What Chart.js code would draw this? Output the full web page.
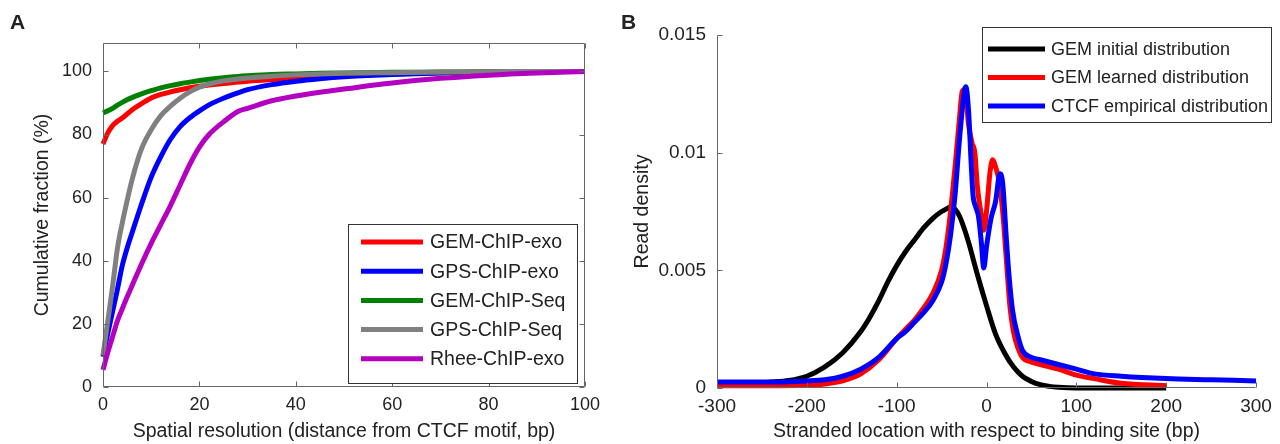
<!DOCTYPE html>
<html>
<head>
<meta charset="utf-8">
<title>GEM resolution and read distributions</title>
<script src="https://cdn.jsdelivr.net/npm/chart.js@4.4.1/dist/chart.umd.min.js"></script>
<style>
  body { margin: 0; background: #fff; width: 1280px; height: 444px; overflow: hidden; position: relative; }
  .panel { position: absolute; top: 0; height: 444px; }
  #panelA { left: 0; width: 620px; }
  #panelB { left: 620px; width: 660px; }
</style>
</head>
<body>
<div class="panel" id="panelA"><canvas id="chartA" width="620" height="444"></canvas></div>
<div class="panel" id="panelB"><canvas id="chartB" width="660" height="444"></canvas></div>
<script>
// Panel A: cumulative fraction (%) vs distance from CTCF motif (bp)
const distBp = [0, 1, 2, 3, 4, 5, 6, 8, 10, 12, 14, 16, 18, 20, 22, 25, 28, 30, 35, 40, 45, 50, 60, 70, 80, 90, 100];
const gemChipExo = [77, 80.5, 82.8, 84.2, 85.2, 86.5, 87.8, 89.8, 91.6, 92.7, 93.5, 94.2, 94.8, 95.3, 95.7, 96.2, 96.6, 96.9, 97.4, 97.8, 98.2, 98.6, 99.2, 99.6, 99.8, 99.9, 100];
const gpsChipExo = [9.6, 17, 24, 31, 38.5, 44, 48.7, 58, 66.5, 73, 78.5, 82.5, 85.3, 87.5, 89.4, 91.5, 93.2, 94.2, 95.8, 96.9, 97.7, 98.3, 99, 99.5, 99.8, 99.9, 100];
const gemChipSeq = [86.8, 87.5, 88.3, 89.3, 90.2, 91, 91.7, 92.9, 93.9, 94.8, 95.5, 96.1, 96.6, 97.1, 97.5, 98, 98.4, 98.6, 99, 99.2, 99.4, 99.5, 99.7, 99.8, 99.9, 100, 100];
const gpsChipSeq = [10, 21, 32, 44, 52, 59, 65.5, 75.5, 81.5, 86, 89, 91.5, 93.5, 95, 96, 97, 97.6, 97.9, 98.5, 98.9, 99.2, 99.4, 99.6, 99.8, 99.9, 100, 100];
const rheeChipExo = [5.4, 11, 16, 21, 24.8, 28.5, 32, 39, 45.5, 51.5, 57.5, 64, 70.5, 76, 80, 84, 87.3, 88.3, 90.7, 92.2, 93.4, 94.4, 96.3, 97.8, 98.8, 99.5, 100];
const ticksAX = [0, 20, 40, 60, 80, 100];
const ticksAY = [0, 20, 40, 60, 80, 100];

// Panel B: read density vs stranded location (bp)
const initPos = [-300, -260, -240, -220, -200, -180, -160, -140, -130, -120, -110, -100, -90, -80, -70, -60, -50, -45, -40, -35, -30, -25, -20, -10, 0, 10, 20, 30, 40, 50, 60, 70, 80, 100, 150, 200];
const initDensity = [0.0002, 0.0002, 0.00025, 0.00032, 0.0005, 0.0009, 0.0015, 0.0024, 0.003, 0.0037, 0.0045, 0.0052, 0.0058, 0.0063, 0.0068, 0.0072, 0.0075, 0.0076, 0.0077, 0.0076, 0.0073, 0.0068, 0.0062, 0.0048, 0.0035, 0.0023, 0.0015, 0.0009, 0.0005, 0.00028, 0.00014, 0.00007, 0.00003, 0, 0, 0];
const learnedPos = [-300, -250, -200, -180, -160, -140, -120, -100, -90, -80, -70, -60, -50, -45, -40, -35, -30, -27, -24, -20, -16, -13, -10, -6, -3, 0, 4, 7, 10, 14, 18, 22, 26, 30, 35, 40, 50, 60, 80, 100, 120, 150, 200];
const learnedDensity = [0.0001, 0.0001, 0.00012, 0.00017, 0.0003, 0.0006, 0.0012, 0.0021, 0.0025, 0.0029, 0.0034, 0.004, 0.005, 0.006, 0.0075, 0.0094, 0.0115, 0.0126, 0.0127, 0.0112, 0.0104, 0.01, 0.0085, 0.0074, 0.0067, 0.0075, 0.0092, 0.0097, 0.0094, 0.0088, 0.0075, 0.0055, 0.0035, 0.0024, 0.0017, 0.0013, 0.0011, 0.001, 0.0008, 0.00055, 0.0004, 0.0002, 0.0001];
const ctcfPos = [-300, -250, -200, -180, -160, -140, -120, -100, -90, -80, -70, -60, -50, -45, -40, -35, -30, -25, -23, -20, -17, -15, -12, -9, -6, -3, 0, 5, 10, 15, 18, 22, 25, 29, 35, 40, 50, 60, 80, 100, 120, 150, 200, 250, 300];
const ctcfDensity = [0.00025, 0.00025, 0.0003, 0.00035, 0.0005, 0.0008, 0.0013, 0.0021, 0.0024, 0.0028, 0.0032, 0.0037, 0.0045, 0.0053, 0.0065, 0.0082, 0.0106, 0.0125, 0.0128, 0.0118, 0.0095, 0.0082, 0.0077, 0.0073, 0.0063, 0.0051, 0.006, 0.0072, 0.0079, 0.0091, 0.0087, 0.0064, 0.0048, 0.0033, 0.0022, 0.0016, 0.0013, 0.0012, 0.001, 0.0008, 0.0006, 0.0005, 0.0004, 0.00035, 0.0003];
const ticksBX = [-300, -200, -100, 0, 100, 200, 300];
const ticksBY = [0, 0.005, 0.01, 0.015];

Chart.defaults.font.family = '"Liberation Sans", Arial, Helvetica, sans-serif';
Chart.defaults.color = '#222';

const textColor = '#222';
const axisColor = '#666';

// pair up x and y arrays for a linear x axis
function toPoints(xs, ys) {
  return xs.map((x, i) => ({ x: x, y: ys[i] }));
}

function lineSet(label, xs, ys, color, order) {
  return {
    label: label,
    data: toPoints(xs, ys),
    borderColor: color,
    backgroundColor: color,
    borderWidth: 5,
    pointRadius: 0,
    cubicInterpolationMode: 'monotone',
    borderJoinStyle: 'round',
    borderCapStyle: 'butt',
    clip: 6,
    order: order
  };
}

// axis lines, inward ticks, axis titles and the panel letter
const axisFrame = {
  id: 'axisFrame',
  afterDraw(chart, args, o) {
    const { ctx, chartArea: a } = chart;
    const xs = chart.scales.x, ys = chart.scales.y;
    const L = Math.round(a.left) + 0.5, R = Math.round(a.right) - 0.5;
    const T = Math.round(a.top) + 0.5, B = Math.round(a.bottom) - 0.5;
    ctx.save();
    ctx.strokeStyle = axisColor;
    ctx.lineWidth = 1;
    ctx.beginPath();
    ctx.moveTo(L, T); ctx.lineTo(L, B); ctx.lineTo(R, B);
    if (o.box) { ctx.lineTo(R, T); ctx.lineTo(L, T); }
    xs.ticks.forEach(t => {
      const p = Math.round(xs.getPixelForValue(t.value)) + 0.5;
      ctx.moveTo(p, B); ctx.lineTo(p, B - o.tick);
      if (o.box) { ctx.moveTo(p, T); ctx.lineTo(p, T + o.tick); }
    });
    ys.ticks.forEach(t => {
      const p = Math.round(ys.getPixelForValue(t.value)) + 0.5;
      ctx.moveTo(L, p); ctx.lineTo(L + o.tick, p);
      if (o.box) { ctx.moveTo(R, p); ctx.lineTo(R - o.tick, p); }
    });
    ctx.stroke();

    ctx.fillStyle = textColor;
    ctx.font = o.titleFont;
    ctx.textAlign = 'center';
    ctx.textBaseline = 'middle';
    ctx.fillText(o.xTitle, (a.left + a.right) / 2, o.xTitleY);
    ctx.save();
    ctx.translate(o.yTitleX, (a.top + a.bottom) / 2);
    ctx.rotate(-Math.PI / 2);
    ctx.fillText(o.yTitle, 0, 0);
    ctx.restore();

    ctx.font = 'bold 21px "Liberation Sans", Arial, sans-serif';
    ctx.textAlign = 'left';
    ctx.fillText(o.letter, o.letterX, o.letterY);
    ctx.restore();
  }
};

// boxed legend placed inside the plot
const boxLegend = {
  id: 'boxLegend',
  afterDraw(chart, args, o) {
    const ctx = chart.ctx;
    ctx.save();
    ctx.fillStyle = '#fff';
    ctx.fillRect(o.x, o.y, o.w, o.h);
    ctx.strokeStyle = '#333';
    ctx.lineWidth = 1;
    ctx.strokeRect(o.x + 0.5, o.y + 0.5, o.w, o.h);
    ctx.font = o.font;
    ctx.textAlign = 'left';
    ctx.textBaseline = 'middle';
    chart.data.datasets.forEach((ds, i) => {
      const yy = o.firstRow + i * o.rowGap;
      ctx.strokeStyle = ds.borderColor;
      ctx.lineWidth = 5;
      ctx.beginPath();
      ctx.moveTo(o.lineX0, yy);
      ctx.lineTo(o.lineX1, yy);
      ctx.stroke();
      ctx.fillStyle = textColor;
      ctx.fillText(ds.label, o.textX, yy + 1);
    });
    ctx.restore();
  }
};

function makeScales(xMin, xMax, xTicks, yMin, yMax, yTicks, yWidth, xHeight, fontSize) {
  const tickFont = { size: fontSize };
  return {
    x: {
      type: 'linear', min: xMin, max: xMax,
      grid: { display: false, drawTicks: false },
      border: { display: false },
      afterBuildTicks: s => { s.ticks = xTicks.map(v => ({ value: v })); },
      afterFit: s => { s.height = xHeight; },
      ticks: { font: tickFont, color: textColor, padding: 7, maxRotation: 0, callback: v => String(v) }
    },
    y: {
      type: 'linear', min: yMin, max: yMax,
      grid: { display: false, drawTicks: false },
      border: { display: false },
      afterBuildTicks: s => { s.ticks = yTicks.map(v => ({ value: v })); },
      afterFit: s => { s.width = yWidth; },
      ticks: { font: tickFont, color: textColor, padding: 11, callback: v => String(v) }
    }
  };
}

new Chart(document.getElementById('chartA'), {
  type: 'line',
  data: {
    datasets: [
      lineSet('GEM-ChIP-exo', distBp, gemChipExo, '#ff0000', 4),
      lineSet('GPS-ChIP-exo', distBp, gpsChipExo, '#0000ff', 3),
      lineSet('GEM-ChIP-Seq', distBp, gemChipSeq, '#008000', 2),
      lineSet('GPS-ChIP-Seq', distBp, gpsChipSeq, '#808080', 1),
      lineSet('Rhee-ChIP-exo', distBp, rheeChipExo, '#b400c0', 0)
    ]
  },
  options: {
    responsive: false,
    animation: false,
    layout: { padding: { left: 0, top: 43, right: 35, bottom: 0 } },
    scales: makeScales(0, 100, ticksAX, 0, 109, ticksAY, 103, 57, 18),
    plugins: {
      legend: { display: false },
      tooltip: { enabled: false },
      axisFrame: {
        box: true, tick: 5,
        xTitle: 'Spatial resolution (distance from CTCF motif, bp)', xTitleY: 432,
        yTitle: 'Cumulative fraction (%)', yTitleX: 43,
        titleFont: '19.5px "Liberation Sans", Arial, sans-serif',
        letter: 'A', letterX: 10, letterY: 23
      },
      boxLegend: {
        x: 348, y: 224, w: 229, h: 159,
        firstRow: 242, rowGap: 29.2,
        lineX0: 361, lineX1: 423, textX: 430,
        font: '19.5px "Liberation Sans", Arial, sans-serif'
      }
    }
  },
  plugins: [axisFrame, boxLegend]
});

new Chart(document.getElementById('chartB'), {
  type: 'line',
  data: {
    datasets: [
      lineSet('GEM initial distribution', initPos, initDensity, '#000000', 2),
      lineSet('GEM learned distribution', learnedPos, learnedDensity, '#ff0000', 1),
      lineSet('CTCF empirical distribution', ctcfPos, ctcfDensity, '#0000ff', 0)
    ]
  },
  options: {
    responsive: false,
    animation: false,
    layout: { padding: { left: 0, top: 35, right: 24, bottom: 0 } },
    scales: makeScales(-300, 300, ticksBX, 0, 0.015, ticksBY, 97, 56, 19),
    plugins: {
      legend: { display: false },
      tooltip: { enabled: false },
      axisFrame: {
        box: false, tick: 5,
        xTitle: 'Stranded location with respect to binding site (bp)', xTitleY: 432,
        yTitle: 'Read density', yTitleX: 23,
        titleFont: '19.5px "Liberation Sans", Arial, sans-serif',
        letter: 'B', letterX: 1, letterY: 23
      },
      boxLegend: {
        x: 362, y: 27, w: 289, h: 95,
        firstRow: 49, rowGap: 28.5,
        lineX0: 368, lineX1: 425, textX: 431,
        font: '18px "Liberation Sans", Arial, sans-serif'
      }
    }
  },
  plugins: [axisFrame, boxLegend]
});
</script>
</body>
</html>
